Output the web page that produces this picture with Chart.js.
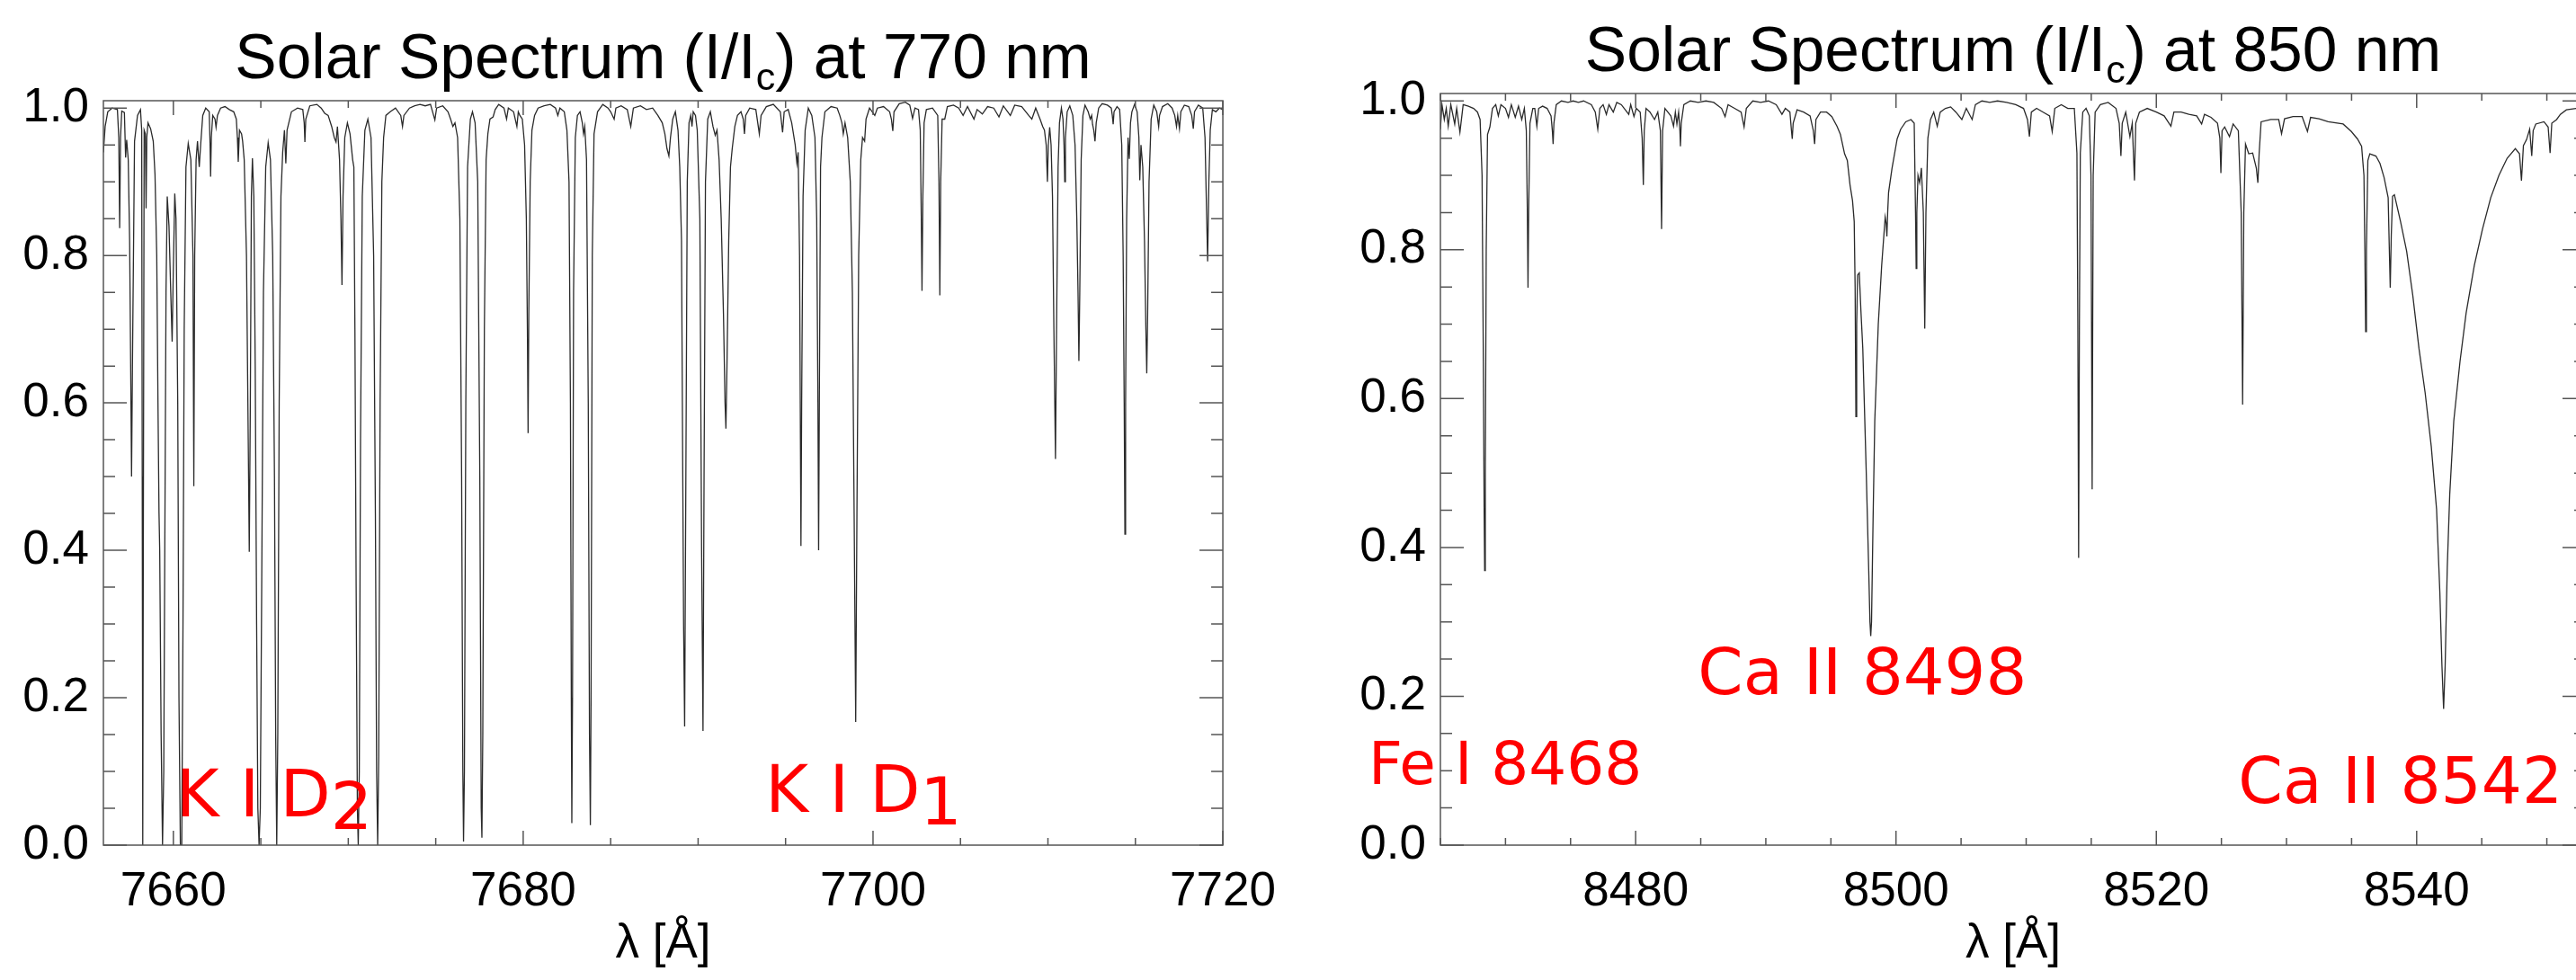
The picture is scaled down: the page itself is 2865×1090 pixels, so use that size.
<!DOCTYPE html>
<html>
<head>
<meta charset="utf-8">
<script src="https://cdn.jsdelivr.net/npm/chart.js@4.4.1/dist/chart.umd.min.js"></script>
<style>
  html, body { margin: 0; padding: 0; background: #fff; overflow: hidden; }
  #wrap { position: relative; width: 2865px; height: 1090px; overflow: hidden; }
  canvas { position: absolute; top: 0; }
  #c770 { left: 0; }
  #c850 { left: 1440px; }
</style>
</head>
<body>
<div id="wrap">
  <canvas id="c770" width="1440" height="1090"></canvas>
  <canvas id="c850" width="1460" height="1090"></canvas>
</div>
<script>
// 770 nm window: wavelength [A] and normalised intensity
const wl770 = [
  7656.00, 7656.10, 7656.25, 7656.50, 7656.80, 7656.88, 7656.93, 7656.98, 7657.05, 7657.20,
  7657.27, 7657.33, 7657.42, 7657.50, 7657.57, 7657.61, 7657.66, 7657.78, 7657.95, 7658.12,
  7658.19, 7658.22, 7658.25, 7658.29, 7658.33, 7658.40, 7658.44, 7658.48, 7658.55, 7658.70,
  7658.85, 7658.95, 7659.05, 7659.12, 7659.18, 7659.22, 7659.30, 7659.38, 7659.45, 7659.52,
  7659.58, 7659.65, 7659.75, 7659.85, 7659.93, 7659.99, 7660.08, 7660.15, 7660.25, 7660.32,
  7660.40, 7660.48, 7660.55, 7660.62, 7660.72, 7660.85, 7661.00, 7661.12, 7661.17, 7661.22,
  7661.30, 7661.38, 7661.48, 7661.56, 7661.68, 7661.85, 7662.05, 7662.10, 7662.13, 7662.17,
  7662.25, 7662.38, 7662.44, 7662.52, 7662.70, 7662.95, 7663.20, 7663.45, 7663.60, 7663.66,
  7663.71, 7663.78, 7663.90, 7663.96, 7664.05, 7664.18, 7664.28, 7664.34, 7664.40, 7664.46,
  7664.52, 7664.60, 7664.68, 7664.76, 7664.83, 7664.90, 7664.97, 7665.05, 7665.15, 7665.28,
  7665.42, 7665.55, 7665.68, 7665.78, 7665.85, 7665.91, 7665.97, 7666.05, 7666.15, 7666.25,
  7666.35, 7666.43, 7666.50, 7666.75, 7667.10, 7667.40, 7667.48, 7667.52, 7667.57, 7667.80,
  7668.20, 7668.45, 7668.65, 7668.85, 7669.05, 7669.20, 7669.30, 7669.38, 7669.50, 7669.58,
  7669.64, 7669.70, 7669.80, 7669.95, 7670.10, 7670.25, 7670.32, 7670.38, 7670.45, 7670.52,
  7670.57, 7670.63, 7670.70, 7670.80, 7670.95, 7671.12, 7671.30, 7671.45, 7671.55, 7671.62,
  7671.68, 7671.74, 7671.82, 7671.92, 7672.02, 7672.15, 7672.40, 7672.70, 7673.00, 7673.10,
  7673.18, 7673.50, 7673.80, 7674.10, 7674.40, 7674.70, 7674.95, 7675.05, 7675.40, 7675.70,
  7675.85, 7675.98, 7676.10, 7676.25, 7676.38, 7676.48, 7676.55, 7676.59, 7676.64, 7676.72,
  7676.82, 7676.98, 7677.10, 7677.25, 7677.40, 7677.52, 7677.60, 7677.64, 7677.69, 7677.78,
  7677.88, 7677.98, 7678.10, 7678.28, 7678.40, 7678.60, 7678.90, 7679.05, 7679.15, 7679.45,
  7679.64, 7679.72, 7679.81, 7679.95, 7680.08, 7680.18, 7680.24, 7680.28, 7680.32, 7680.40,
  7680.50, 7680.65, 7680.85, 7681.20, 7681.55, 7681.85, 7681.98, 7682.10, 7682.35, 7682.50,
  7682.62, 7682.70, 7682.75, 7682.78, 7682.82, 7682.88, 7682.98, 7683.10, 7683.25, 7683.38,
  7683.45, 7683.52, 7683.62, 7683.72, 7683.79, 7683.84, 7683.88, 7683.95, 7684.05, 7684.25,
  7684.55, 7684.85, 7685.00, 7685.20, 7685.30, 7685.60, 7685.95, 7686.15, 7686.30, 7686.70,
  7687.05, 7687.40, 7687.70, 7687.95, 7688.10, 7688.22, 7688.33, 7688.42, 7688.55, 7688.70,
  7688.85, 7688.95, 7689.05, 7689.10, 7689.17, 7689.23, 7689.30, 7689.38, 7689.48, 7689.58,
  7689.65, 7689.72, 7689.85, 7689.95, 7690.10, 7690.20, 7690.28, 7690.34, 7690.42, 7690.55,
  7690.70, 7690.85, 7690.98, 7691.08, 7691.20, 7691.32, 7691.45, 7691.54, 7691.59, 7691.65,
  7691.75, 7691.85, 7691.95, 7692.10, 7692.25, 7692.45, 7692.58, 7692.65, 7692.72, 7692.95,
  7693.30, 7693.50, 7693.60, 7693.90, 7694.30, 7694.70, 7694.83, 7694.92, 7695.15, 7695.35,
  7695.55, 7695.65, 7695.72, 7695.80, 7695.85, 7695.88, 7695.92, 7696.00, 7696.12, 7696.30,
  7696.50, 7696.68, 7696.78, 7696.85, 7696.89, 7696.93, 7697.00, 7697.08, 7697.25, 7697.60,
  7697.95, 7698.10, 7698.22, 7698.30, 7698.40, 7698.55, 7698.70, 7698.82, 7698.92, 7699.01,
  7699.08, 7699.18, 7699.30, 7699.40, 7699.52, 7699.60, 7699.80, 7700.10, 7700.25, 7700.60,
  7700.95, 7701.05, 7701.13, 7701.20, 7701.50, 7701.85, 7702.10, 7702.26, 7702.40, 7702.60,
  7702.70, 7702.76, 7702.80, 7702.85, 7702.92, 7703.05, 7703.40, 7703.70, 7703.77, 7703.82,
  7703.87, 7703.95, 7704.10, 7704.25, 7704.60, 7704.90, 7705.15, 7705.40, 7705.77, 7705.95,
  7706.25, 7706.55, 7706.90, 7707.20, 7707.45, 7707.85, 7708.10, 7708.50, 7708.90, 7709.08,
  7709.30, 7709.55, 7709.70, 7709.80, 7709.90, 7709.97, 7710.02, 7710.10, 7710.18, 7710.26,
  7710.34, 7710.43, 7710.50, 7710.58, 7710.66, 7710.77, 7710.86, 7710.92, 7710.96, 7711.00,
  7711.10, 7711.25, 7711.42, 7711.55, 7711.65, 7711.72, 7711.77, 7711.82, 7711.90, 7712.00,
  7712.12, 7712.30, 7712.42, 7712.50, 7712.55, 7712.62, 7712.69, 7712.76, 7712.90, 7713.10,
  7713.40, 7713.62, 7713.68, 7713.73, 7713.78, 7713.95, 7714.10, 7714.22, 7714.30, 7714.36,
  7714.40, 7714.44, 7714.50, 7714.58, 7714.65, 7714.72, 7714.80, 7714.95, 7715.10, 7715.20,
  7715.25, 7715.32, 7715.42, 7715.52, 7715.60, 7715.65, 7715.70, 7715.78, 7715.90, 7716.05,
  7716.22, 7716.33, 7716.38, 7716.55, 7716.85, 7717.10, 7717.25, 7717.35, 7717.42, 7717.52,
  7717.60, 7717.80, 7718.05, 7718.22, 7718.31, 7718.38, 7718.60, 7718.85, 7718.98, 7719.05,
  7719.13, 7719.20, 7719.28, 7719.40, 7719.60, 7719.80, 7720.00
];
const int770 = [
  0.94, 0.975, 0.995, 1.000, 0.998, 0.96, 0.837, 0.96, 0.996, 0.994,
  0.933, 0.957, 0.93, 0.82, 0.62, 0.50, 0.65, 0.955, 0.99, 0.998,
  0.97, 0.5, 0.0, 0.5, 0.97, 0.965, 0.864, 0.96, 0.98, 0.972,
  0.955, 0.91, 0.80, 0.60, 0.45, 0.40, 0.15, 0.0, 0.1, 0.45,
  0.75, 0.88, 0.84, 0.75, 0.683, 0.77, 0.884, 0.85, 0.6, 0.2,
  0.0, 0.0, 0.3, 0.7, 0.92, 0.952, 0.93, 0.80, 0.487, 0.80,
  0.93, 0.955, 0.92, 0.95, 0.99, 1.0, 0.995, 0.95, 0.907, 0.96,
  0.99, 0.985, 0.974, 0.99, 1.0, 1.002, 0.998, 0.995, 0.985, 0.96,
  0.927, 0.97, 0.965, 0.955, 0.93, 0.80, 0.55, 0.398, 0.60, 0.88,
  0.932, 0.88, 0.65, 0.3, 0.05, 0.0, 0.05, 0.35, 0.75, 0.92,
  0.953, 0.93, 0.8, 0.5, 0.15, 0.0, 0.15, 0.6, 0.88, 0.94,
  0.97, 0.925, 0.97, 0.995, 1.0, 0.998, 0.98, 0.954, 0.985, 1.003,
  1.005, 1.0, 0.993, 0.99, 0.975, 0.96, 0.954, 0.975, 0.93, 0.85,
  0.76, 0.88, 0.96, 0.98, 0.965, 0.93, 0.92, 0.7, 0.35, 0.05,
  0.0, 0.1, 0.55, 0.88, 0.97, 0.985, 0.96, 0.8, 0.45, 0.1,
  0.0, 0.12, 0.6, 0.90, 0.96, 0.99, 0.995, 1.0, 0.99, 0.975,
  0.99, 1.0, 1.003, 1.005, 1.003, 1.005, 0.984, 1.0, 1.003, 0.995,
  0.985, 0.975, 0.98, 0.96, 0.85, 0.5, 0.1, 0.005, 0.1, 0.6,
  0.92, 0.985, 0.995, 0.98, 0.9, 0.5, 0.05, 0.01, 0.15, 0.7,
  0.93, 0.965, 0.985, 0.988, 0.998, 1.005, 1.0, 0.985, 1.0, 0.995,
  0.975, 0.995, 0.99, 0.985, 0.95, 0.85, 0.70, 0.559, 0.72, 0.90,
  0.97, 0.99, 1.0, 1.003, 1.005, 1.0, 0.99, 1.0, 0.995, 0.97,
  0.9, 0.6, 0.2, 0.03, 0.2, 0.75, 0.96, 0.99, 0.995, 0.98,
  0.965, 0.975, 0.93, 0.6, 0.15, 0.027, 0.2, 0.8, 0.965, 0.995,
  1.005, 1.0, 0.995, 0.985, 1.0, 1.003, 0.998, 0.975, 1.0, 1.003,
  0.998, 1.0, 0.99, 0.98, 0.965, 0.945, 0.935, 0.96, 0.985, 0.995,
  0.97, 0.92, 0.821, 0.6, 0.30, 0.161, 0.5, 0.90, 0.98, 0.99,
  0.975, 0.995, 0.99, 0.97, 0.85, 0.4, 0.155, 0.5, 0.9, 0.985,
  0.995, 0.975, 0.963, 0.97, 0.93, 0.85, 0.72, 0.6, 0.565, 0.65,
  0.82, 0.92, 0.945, 0.975, 0.99, 0.995, 0.985, 0.965, 0.99, 1.0,
  0.998, 0.965, 0.99, 1.002, 1.005, 0.995, 0.967, 0.995, 0.998, 0.98,
  0.95, 0.925, 0.94, 0.80, 0.55, 0.406, 0.6, 0.88, 0.97, 1.0,
  0.99, 0.96, 0.85, 0.6, 0.40, 0.6, 0.92, 0.96, 0.995, 1.002,
  1.0, 0.99, 0.98, 0.965, 0.98, 0.96, 0.9, 0.75, 0.45, 0.167,
  0.45, 0.80, 0.93, 0.96, 0.955, 0.985, 1.0, 0.99, 1.0, 1.002,
  0.995, 0.985, 0.969, 0.995, 1.006, 1.008, 1.004, 0.986, 1.0, 0.998,
  0.97, 0.85, 0.752, 0.88, 0.98, 0.998, 1.0, 0.99, 0.90, 0.746,
  0.90, 0.985, 0.985, 1.002, 1.004, 1.0, 0.99, 1.002, 0.985, 0.998,
  0.992, 1.002, 1.0, 0.988, 1.003, 0.99, 1.004, 1.002, 0.99, 0.985,
  1.0, 0.985, 0.975, 0.97, 0.95, 0.900, 0.95, 0.974, 0.95, 0.88,
  0.7, 0.524, 0.72, 0.92, 0.98, 1.0, 0.985, 0.95, 0.90, 0.96,
  0.995, 1.003, 0.99, 0.95, 0.85, 0.75, 0.657, 0.75, 0.93, 0.99,
  1.004, 0.995, 0.985, 0.99, 0.978, 0.97, 0.955, 0.98, 1.0, 1.006,
  1.004, 1.0, 0.99, 0.978, 0.995, 1.002, 0.998, 0.95, 0.80, 0.6,
  0.422, 0.6, 0.85, 0.96, 0.931, 0.98, 0.995, 1.005, 0.995, 0.96,
  0.902, 0.95, 0.92, 0.82, 0.70, 0.640, 0.72, 0.9, 0.985, 1.004,
  0.995, 0.975, 0.99, 1.002, 1.006, 1.0, 0.99, 0.975, 0.99, 0.972,
  0.995, 1.004, 1.002, 0.99, 0.972, 0.995, 1.004, 1.0, 0.96, 0.88,
  0.792, 0.90, 0.97, 0.998, 0.995, 1.0, 0.998
];

// 850 nm window
const wl850 = [
  8465.00, 8465.12, 8465.30, 8465.45, 8465.60, 8465.80, 8466.10, 8466.25, 8466.50, 8466.75,
  8467.15, 8467.55, 8467.85, 8468.05, 8468.20, 8468.30, 8468.36, 8468.40, 8468.45, 8468.52,
  8468.62, 8468.80, 8469.00, 8469.25, 8469.45, 8469.65, 8470.00, 8470.23, 8470.45, 8470.75,
  8471.00, 8471.25, 8471.45, 8471.60, 8471.68, 8471.73, 8471.78, 8471.88, 8472.10, 8472.25,
  8472.41, 8472.55, 8472.85, 8473.20, 8473.50, 8473.60, 8473.66, 8473.72, 8473.90, 8474.30,
  8474.80, 8475.20, 8475.60, 8476.00, 8476.60, 8476.90, 8477.09, 8477.25, 8477.50, 8477.75,
  8477.95, 8478.28, 8478.55, 8478.90, 8479.47, 8479.62, 8479.87, 8480.05, 8480.35, 8480.50,
  8480.59, 8480.66, 8480.80, 8481.10, 8481.45, 8481.70, 8481.90, 8481.99, 8482.07, 8482.25,
  8482.70, 8482.91, 8483.05, 8483.17, 8483.30, 8483.40, 8483.44, 8483.50, 8483.70, 8484.20,
  8484.80, 8485.40, 8486.00, 8486.60, 8486.87, 8487.10, 8487.60, 8488.10, 8488.33, 8488.50,
  8489.00, 8489.60, 8490.20, 8490.80, 8491.24, 8491.50, 8491.85, 8491.97, 8492.03, 8492.10,
  8492.40, 8492.90, 8493.40, 8493.65, 8493.75, 8493.85, 8494.20, 8494.67, 8495.07, 8495.47,
  8495.73, 8496.05, 8496.26, 8496.47, 8496.66, 8496.79, 8496.86, 8496.92, 8496.98, 8497.05,
  8497.18, 8497.30, 8497.45, 8497.71, 8497.90, 8498.00, 8498.06, 8498.12, 8498.24, 8498.37,
  8498.64, 8498.90, 8499.17, 8499.25, 8499.30, 8499.36, 8499.43, 8499.69, 8500.09, 8500.36,
  8500.75, 8501.15, 8501.40, 8501.50, 8501.55, 8501.60, 8501.69, 8501.82, 8501.95, 8502.10,
  8502.21, 8502.30, 8502.45, 8502.65, 8502.90, 8503.17, 8503.40, 8503.80, 8504.20, 8504.60,
  8505.06, 8505.40, 8505.85, 8506.10, 8506.60, 8507.20, 8507.80, 8508.50, 8509.20, 8509.80,
  8510.10, 8510.25, 8510.40, 8510.80, 8511.30, 8511.80, 8512.00, 8512.20, 8512.70, 8513.20,
  8513.70, 8513.90, 8513.97, 8514.03, 8514.09, 8514.16, 8514.35, 8514.60, 8514.85, 8514.98,
  8515.07, 8515.15, 8515.30, 8515.70, 8516.30, 8516.90, 8517.15, 8517.28, 8517.38, 8517.65,
  8517.97, 8518.15, 8518.32, 8518.42, 8518.70, 8519.30, 8520.00, 8520.60, 8521.12, 8521.35,
  8521.90, 8522.50, 8523.10, 8523.48, 8523.70, 8524.20, 8524.70, 8524.88, 8524.96, 8525.05,
  8525.25, 8525.62, 8525.90, 8526.30, 8526.52, 8526.63, 8526.72, 8526.85, 8527.10, 8527.40,
  8527.68, 8527.80, 8527.90, 8528.05, 8528.80, 8529.40, 8529.62, 8529.85, 8530.50, 8531.20,
  8531.61, 8531.85, 8532.50, 8533.20, 8534.35, 8534.98, 8535.45, 8535.77, 8535.95, 8536.02,
  8536.08, 8536.14, 8536.25, 8536.40, 8536.87, 8537.18, 8537.50, 8537.81, 8537.90, 8537.97,
  8538.05, 8538.15, 8538.29, 8538.76, 8539.23, 8539.70, 8540.18, 8540.65, 8541.12, 8541.53,
  8541.78, 8541.94, 8542.07, 8542.19, 8542.35, 8542.54, 8542.85, 8543.33, 8543.80, 8544.43,
  8545.06, 8545.69, 8546.32, 8546.95, 8547.58, 8547.90, 8548.05, 8548.20, 8548.44, 8548.68,
  8548.84, 8548.95, 8549.15, 8549.78, 8550.10, 8550.25, 8550.38, 8550.75, 8551.04, 8551.50,
  8552.24, 8553.00
];
const int850 = [
  0.962, 0.995, 0.975, 0.99, 0.966, 0.995, 0.969, 0.99, 0.958, 0.995,
  0.993, 0.99, 0.985, 0.975, 0.90, 0.65, 0.45, 0.369, 0.50, 0.80,
  0.955, 0.965, 0.99, 0.995, 0.98, 0.995, 0.99, 0.978, 0.995, 0.978,
  0.993, 0.975, 0.99, 0.96, 0.85, 0.749, 0.85, 0.97, 0.99, 0.99,
  0.966, 0.99, 0.993, 0.99, 0.98, 0.96, 0.942, 0.97, 0.995, 1.0,
  0.998, 1.0, 0.998, 1.0, 0.995, 0.985, 0.962, 0.99, 0.995, 0.982,
  0.995, 0.985, 0.998, 0.995, 0.982, 0.995, 0.979, 0.99, 0.985, 0.95,
  0.887, 0.96, 0.99, 0.985, 0.975, 0.985, 0.96, 0.828, 0.96, 0.99,
  0.98, 0.966, 0.985, 0.969, 0.985, 0.96, 0.939, 0.97, 0.995, 1.0,
  0.998, 1.0, 0.998, 0.99, 0.979, 0.995, 0.99, 0.985, 0.965, 0.99,
  1.0, 0.998, 1.0, 0.995, 0.982, 0.99, 0.985, 0.96, 0.949, 0.97,
  0.988, 0.985, 0.98, 0.96, 0.942, 0.975, 0.985, 0.985, 0.979, 0.966,
  0.955, 0.929, 0.92, 0.887, 0.866, 0.838, 0.75, 0.576, 0.70, 0.766,
  0.769, 0.72, 0.667, 0.504, 0.373, 0.30, 0.281, 0.30, 0.438, 0.570,
  0.700, 0.779, 0.844, 0.835, 0.818, 0.85, 0.877, 0.909, 0.949, 0.962,
  0.972, 0.975, 0.97, 0.85, 0.775, 0.85, 0.90, 0.89, 0.91, 0.85,
  0.694, 0.85, 0.95, 0.975, 0.985, 0.966, 0.985, 0.99, 0.992, 0.985,
  0.975, 0.99, 0.975, 0.995, 1.0, 0.998, 1.0, 0.998, 0.995, 0.99,
  0.975, 0.952, 0.985, 0.99, 0.985, 0.98, 0.959, 0.99, 0.995, 0.99,
  0.99, 0.93, 0.7, 0.386, 0.7, 0.93, 0.985, 0.99, 0.98, 0.9,
  0.478, 0.9, 0.985, 0.995, 0.998, 0.99, 0.97, 0.926, 0.97, 0.985,
  0.952, 0.97, 0.893, 0.97, 0.985, 0.99, 0.985, 0.98, 0.966, 0.985,
  0.985, 0.982, 0.98, 0.969, 0.982, 0.978, 0.97, 0.95, 0.903, 0.96,
  0.965, 0.952, 0.969, 0.96, 0.85, 0.592, 0.85, 0.942, 0.929, 0.93,
  0.91, 0.890, 0.93, 0.972, 0.975, 0.975, 0.956, 0.976, 0.979, 0.979,
  0.959, 0.978, 0.976, 0.972, 0.969, 0.959, 0.949, 0.939, 0.90, 0.80,
  0.690, 0.80, 0.92, 0.929, 0.926, 0.916, 0.897, 0.870, 0.80, 0.749,
  0.82, 0.872, 0.874, 0.838, 0.798, 0.739, 0.667, 0.608, 0.536, 0.451,
  0.340, 0.242, 0.183, 0.242, 0.373, 0.471, 0.570, 0.65, 0.715, 0.779,
  0.828, 0.870, 0.900, 0.923, 0.936, 0.929, 0.893, 0.94, 0.948, 0.962,
  0.926, 0.96, 0.969, 0.972, 0.965, 0.93, 0.97, 0.975, 0.982, 0.988,
  0.99, 0.99
];

const xTicks770 = [7660, 7680, 7700, 7720];
const xTicks850 = [8480, 8500, 8520, 8540];
const yTicks = [0, 0.2, 0.4, 0.6, 0.8, 1.0];

const TICK_FONT = { family: 'Liberation Sans', size: 53 };
const FRAME = '#555';

function frameAndLabels(title, notes) {
    return {
        id: 'frameAndLabels',
        afterDraw(chart) {
            const { ctx, chartArea: a, scales: { x, y } } = chart;
            ctx.save();

            // box with IDL style inward ticks on all four sides
            ctx.strokeStyle = FRAME;
            ctx.lineWidth = 1.5;
            ctx.strokeRect(a.left, a.top, a.right - a.left, a.bottom - a.top);
            ctx.beginPath();
            for (let v = Math.ceil(x.min / 5) * 5; v <= x.max + 1e-6; v += 5) {
                const px = x.getPixelForValue(v);
                const len = v % 20 === 0 ? 16 : 8;
                ctx.moveTo(px, a.bottom); ctx.lineTo(px, a.bottom - len);
                ctx.moveTo(px, a.top); ctx.lineTo(px, a.top + len);
            }
            for (let i = 0; i <= 20; i++) {
                const py = y.getPixelForValue(i * 0.05);
                const len = i % 4 === 0 ? 26 : 13;
                ctx.moveTo(a.left, py); ctx.lineTo(a.left + len, py);
                ctx.moveTo(a.right, py); ctx.lineTo(a.right - len, py);
            }
            ctx.stroke();

            // title with subscript c
            const big = '69.5px "Liberation Sans"';
            const small = '43px "Liberation Sans"';
            ctx.font = big;
            const w1 = ctx.measureText(title[0]).width;
            const w3 = ctx.measureText(title[2]).width;
            ctx.font = small;
            const w2 = ctx.measureText(title[1]).width;
            const x0 = (a.left + a.right) / 2 - (w1 + w2 + w3) / 2;
            const base = a.top - 25;
            ctx.fillStyle = '#000';
            ctx.textAlign = 'left';
            ctx.textBaseline = 'alphabetic';
            ctx.font = big;
            ctx.fillText(title[0], x0, base);
            ctx.font = small;
            ctx.fillText(title[1], x0 + w1, base + 13);
            ctx.font = big;
            ctx.fillText(title[2], x0 + w1 + w2, base);

            // red line identifications
            ctx.fillStyle = '#ff0000';
            notes.forEach(n => {
                ctx.font = `${n.size}px "DejaVu Sans"`;
                const px = x.getPixelForValue(n.x);
                const py = y.getPixelForValue(n.y);
                ctx.fillText(n.text, px, py);
                if (n.sub) {
                    ctx.fillText(n.sub, px + ctx.measureText(n.text).width, py + 14);
                }
            });
            ctx.restore();
        }
    };
}

function makeSpectrum(canvasId, wl, flux, cfg) {
    const ctx = document.getElementById(canvasId).getContext('2d');
    return new Chart(ctx, {
        type: 'line',
        data: {
            datasets: [{
                data: wl.map((w, i) => ({ x: w, y: flux[i] })),
                borderColor: '#2a2a2a',
                borderWidth: 1.3,
                pointRadius: 0,
                tension: 0,
                fill: false
            }]
        },
        options: {
            responsive: false,
            animation: false,
            devicePixelRatio: 1,
            layout: { padding: { left: 0, right: cfg.padRight, top: cfg.padTop, bottom: 0 } },
            plugins: {
                legend: { display: false },
                tooltip: { enabled: false }
            },
            scales: {
                x: {
                    type: 'linear',
                    min: cfg.xMin,
                    max: cfg.xMax,
                    grid: { display: false, drawTicks: false },
                    border: { display: false },
                    afterBuildTicks: (s) => { s.ticks = cfg.xTicks.map(v => ({ value: v })); },
                    afterFit: (s) => { s.height = 150; },
                    ticks: {
                        font: TICK_FONT,
                        color: '#000',
                        padding: 21,
                        maxRotation: 0,
                        autoSkip: false,
                        callback: (v) => String(v)
                    },
                    title: {
                        display: true,
                        text: 'λ [Å]',
                        font: TICK_FONT,
                        color: '#000',
                        padding: { top: 0, bottom: 8 }
                    }
                },
                y: {
                    min: 0,
                    max: 1.01,
                    grid: { display: false, drawTicks: false },
                    border: { display: false },
                    afterBuildTicks: (s) => { s.ticks = yTicks.map(v => ({ value: v })); },
                    afterFit: (s) => { s.width = cfg.yWidth; },
                    ticks: {
                        font: TICK_FONT,
                        color: '#000',
                        padding: 16,
                        callback: (v) => Number(v).toFixed(1)
                    }
                }
            }
        },
        plugins: [frameAndLabels(cfg.title, cfg.notes)]
    });
}

makeSpectrum('c770', wl770, int770, {
    xMin: 7656, xMax: 7720, xTicks: xTicks770,
    yWidth: 115, padRight: 66, padTop: 112,
    title: ['Solar Spectrum (I/I', 'c', ') at 770 nm'],
    notes: [
        { text: 'K I D', sub: '2', x: 7660.15, y: 0.039, size: 73 },
        { text: 'K I D', sub: '1', x: 7693.85, y: 0.0455, size: 73 }
    ]
});

makeSpectrum('c850', wl850, int850, {
    xMin: 8465, xMax: 8553, xTicks: xTicks850,
    yWidth: 162, padRight: 24, padTop: 104,
    title: ['Solar Spectrum (I/I', 'c', ') at 850 nm'],
    notes: [
        { text: 'Fe I 8468', x: 8459.47, y: 0.0816, size: 66 },
        { text: 'Ca II 8498', x: 8484.78, y: 0.2035, size: 72 },
        { text: 'Ca II 8542', x: 8526.29, y: 0.0568, size: 71 }
    ]
});
</script>
</body>
</html>
